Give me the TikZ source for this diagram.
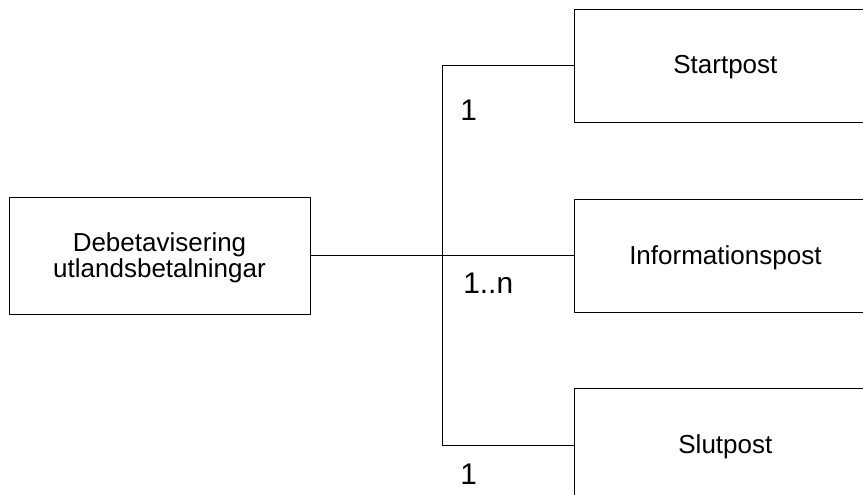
\documentclass[tikz,border=0pt]{standalone}
\usepackage{fontspec}
\setmainfont{Liberation Sans}
\usetikzlibrary{positioning, calc}

\begin{document}
\begin{tikzpicture}[
    node distance=1.52cm and 5.28cm,
    every node/.style={font=\fontsize{14.8pt}{14.8pt}\selectfont},
    box/.style={draw, line width=0.5pt, align=center, inner sep=0pt,
                text depth=0.1em,
                minimum width=6.02cm, minimum height=2.26cm},
    mainbox/.style={box, minimum height=2.34cm},
    lbl/.style={inner sep=0pt, font=\fontsize{17pt}{17pt}\selectfont},
    link/.style={line width=0.5pt}
]
    \useasboundingbox (0,0) rectangle (17.26,9.9);
    \clip (0,0) rectangle (17.26,9.9);

    \node[mainbox] (deb) at (3.19,4.79) {Debetavisering\\utlandsbetalningar};
    \node[box, right=of deb] (info) {Informationspost};
    \node[box, above=of info] (start) {Startpost};
    \node[box, below=of info] (slut) {Slutpost};

    \coordinate (jn) at ($(deb.east)!0.5!(info.west)$);
    \coordinate (topc) at (jn |- start.west);
    \coordinate (botc) at (jn |- slut.west);

    \draw[link] (deb.east) -- (info.west);
    \draw[link] (start.west) -- (topc) -- (botc) -- (slut.west);

    \node[lbl, below right=0.67cm and 0.35cm of topc] (n1) {1};
    \node[lbl, below right=0.34cm and 0.41cm of jn] (nn) {1..n};
    \node[lbl, below right=0.36cm and 0.35cm of botc] (n2) {1};
\end{tikzpicture}
\end{document}
